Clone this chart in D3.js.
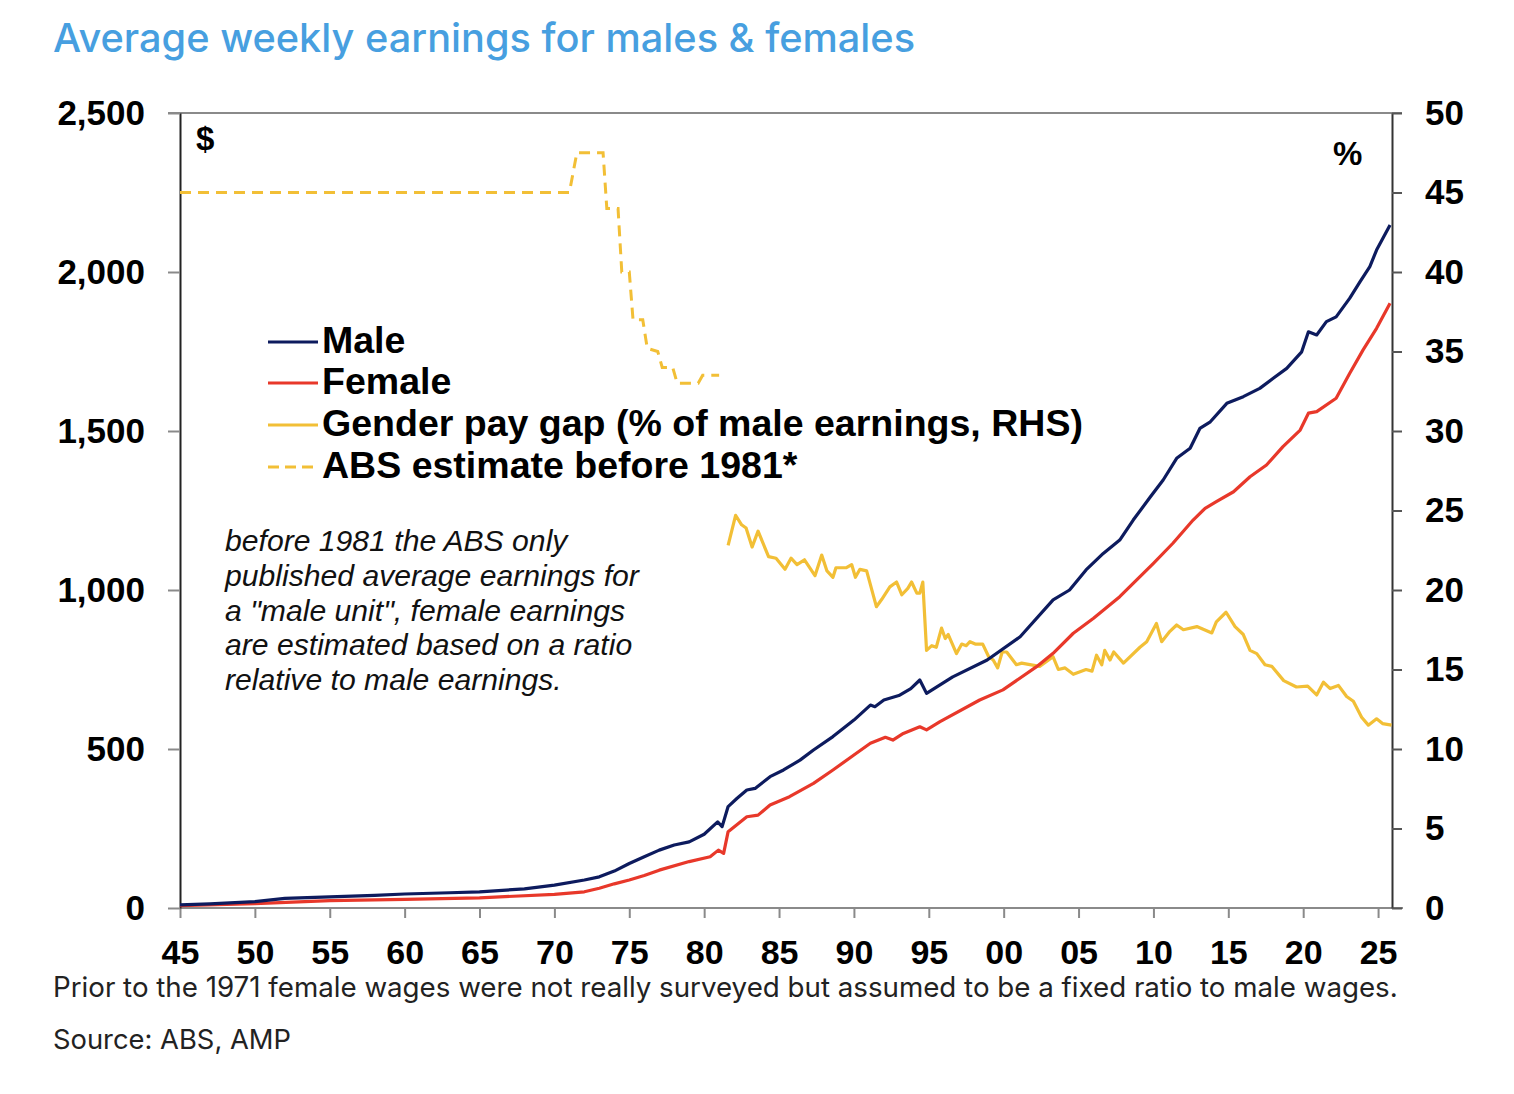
<!DOCTYPE html>
<html><head><meta charset="utf-8">
<script src="https://cdn.jsdelivr.net/npm/d3@7"></script>
<style>
html,body{margin:0;padding:0;background:#fff;}
svg{display:block;}
</style></head>
<body>
<svg id="chart" width="1514" height="1094"></svg>
<script>
// ---------- DATA ----------
const maleYears = [1945,1947,1950,1952,1955,1958,1960,1963,1965,1968,1970,1972,1973,1974,1975,1976,1977,1978,1979,1980,1980.9,1981.2,1981.6,1982.2,1982.85,1983.4,1984.4,1985.3,1986.4,1987.3,1988.6,1990.0,1991.1,1991.4,1992.0,1993.0,1993.8,1994.4,1994.85,1996.6,1998.9,2001.1,2003.3,2004.4,2005.5,2006.65,2007.75,2008.65,2009.8,2010.65,2011.55,2012.45,2013.1,2013.8,2014.9,2016.0,2017.1,2018.0,2018.9,2019.9,2020.35,2020.9,2021.55,2022.2,2023.1,2023.8,2024.45,2024.9,2025.8];
const maleValues = [10,13,20,30,35,40,44,48,51,60,72,88,98,116,140,161,182,198,208,232,271,256,319,345,371,376,413,434,465,497,539,591,638,633,654,668,690,717,675,727,780,853,969,1000,1063,1115,1157,1220,1293,1346,1414,1446,1508,1529,1587,1608,1634,1666,1697,1749,1812,1802,1844,1859,1917,1970,2017,2069,2148];

const femaleYears = [1945,1950,1955,1960,1965,1970,1972,1973,1974,1975,1976,1977,1979,1980.4,1980.95,1981.3,1981.6,1982.85,1983.6,1984.4,1985.7,1987.3,1988.6,1990.0,1991.1,1992.1,1992.6,1993.3,1994.4,1994.85,1995.75,1998.4,1999.95,2002.2,2003.3,2004.65,2006.0,2007.75,2010.0,2011.3,2012.65,2013.45,2014.2,2015.35,2016.45,2017.55,2018.65,2019.8,2020.35,2020.9,2022.2,2023.1,2024.0,2024.9,2025.8];
const femaleValues = [7,14,23,27,32,43,51,62,76,88,102,119,146,161,182,172,240,287,292,324,350,392,434,481,518,537,528,549,570,560,586,654,686,759,801,864,911,979,1084,1147,1220,1257,1278,1309,1356,1393,1451,1503,1556,1561,1603,1681,1755,1823,1902];

const gapYears = [1981.6,1982.1,1982.5,1982.8,1983.2,1983.6,1984.3,1984.8,1985.4,1985.8,1986.2,1986.7,1987.4,1987.85,1988.2,1988.6,1988.8,1989.5,1989.85,1990.1,1990.4,1990.85,1991.5,1991.85,1992.4,1992.85,1993.2,1993.6,1993.85,1994.2,1994.4,1994.6,1994.85,1995.2,1995.5,1995.85,1996.1,1996.3,1996.85,1997.2,1997.5,1997.75,1998.1,1998.6,1999.0,1999.3,1999.6,1999.9,2000.2,2000.85,2001.2,2002.4,2003.3,2003.65,2004.1,2004.65,2005.5,2005.9,2006.2,2006.55,2006.75,2007.1,2007.35,2008.0,2009.1,2009.55,2010.2,2010.55,2011.1,2011.55,2012.0,2012.9,2013.9,2014.2,2014.85,2015.45,2016.0,2016.45,2016.9,2017.45,2017.9,2018.7,2019.55,2020.3,2020.9,2021.35,2021.8,2022.35,2022.9,2023.35,2023.9,2024.35,2024.9,2025.3,2025.9];
const gapValues = [22.8,24.7,24.1,23.9,22.7,23.7,22.1,22.0,21.3,22.0,21.6,21.9,20.9,22.2,21.2,20.8,21.4,21.4,21.6,20.8,21.3,21.2,18.95,19.4,20.2,20.5,19.7,20.1,20.5,19.8,19.8,20.5,16.2,16.5,16.4,17.6,16.95,17.2,16.0,16.6,16.5,16.75,16.6,16.6,15.8,15.6,15.1,16.1,16.1,15.3,15.4,15.2,15.8,15.0,15.1,14.7,15.0,14.9,15.9,15.3,16.2,15.6,16.1,15.4,16.4,16.75,17.9,16.75,17.4,17.8,17.5,17.7,17.3,18.0,18.6,17.7,17.2,16.2,16.0,15.3,15.2,14.3,13.9,13.96,13.4,14.2,13.8,14.0,13.3,13.0,12.0,11.5,11.9,11.6,11.5];

const absYears = [1945,1971.0,1971.5,1973.25,1973.5,1974.25,1974.5,1975.0,1975.25,1975.9,1976.2,1976.9,1977.2,1977.9,1978.2,1979.6,1979.9,1981.0];
const absValues = [45,45,47.5,47.5,44,44,40,40,37,37,35.2,35,34,34,33,33,33.5,33.5];

const xTickYears = [1945,1950,1955,1960,1965,1970,1975,1980,1985,1990,1995,2000,2005,2010,2015,2020,2025];
const leftTicks = [0,500,1000,1500,2000,2500];
const rightTicks = [0,5,10,15,20,25,30,35,40,45,50];

const legendLabels = ["Male","Female","Gender pay gap (% of male earnings, RHS)","ABS estimate before 1981*"];
const noteLines = ["before 1981 the ABS only","published average earnings for","a \"male unit\", female earnings","are estimated based on a ratio","relative to male earnings."];
const titleText = "Average weekly earnings for males & females";
const footText = "Prior to the 1971 female wages were not really surveyed but assumed to be a fixed ratio to male wages.";
const sourceText = "Source: ABS, AMP";

// ---------- STYLE ----------
const C = {male:"#0d1b5e", female:"#e8382a", gap:"#f2bf36", title:"#479fe0"};
const chartFont = "'Liberation Sans', Arial, sans-serif";
const uiFont = "Inter, 'Noto Sans', sans-serif";

const svg = d3.select("#chart");
svg.append("rect").attr("width",1514).attr("height",1094).attr("fill","#fff");

const L = 180, R = 1392, T = 113, B = 908;
const x = d3.scaleLinear().domain([1945, 2025.93]).range([L, R]);
const y = d3.scaleLinear().domain([0, 2500]).range([B, T]);
const yR = d3.scaleLinear().domain([0, 50]).range([B, T]);

function fitSize(sel, w){
  const fs = parseFloat(sel.attr("font-size"));
  return fs*w/sel.node().getComputedTextLength();
}
function fit(sel, w){ sel.attr("font-size", fitSize(sel,w).toFixed(2)); }

// title / footer
fit(svg.append("text").attr("x",53).attr("y",52).attr("font-family",uiFont).attr("font-weight",500)
  .attr("font-size",38).attr("fill",C.title).text(titleText), 862);
fit(svg.append("text").attr("x",53).attr("y",997).attr("font-family",uiFont).attr("font-weight",400)
  .attr("font-size",25).attr("fill","#222").text(footText), 1345);
fit(svg.append("text").attr("x",53).attr("y",1049).attr("font-family",uiFont).attr("font-weight",400)
  .attr("font-size",25).attr("fill","#222").text(sourceText), 238);

// frame line (top)
svg.append("line").attr("x1",168).attr("x2",1402).attr("y1",T).attr("y2",T).attr("stroke","#8a8a8a").attr("stroke-width",2);

// axes
const xAxis = d3.axisBottom(x).tickValues(xTickYears).tickSize(10).tickSizeOuter(0).tickPadding(22)
  .tickFormat(d => String(d % 100).padStart(2,"0"));
const gx = svg.append("g").attr("transform",`translate(0,${B})`).call(xAxis);
gx.select(".domain").attr("stroke","#8a8a8a").attr("stroke-width",2).attr("d",`M${L},0H1403`);
gx.selectAll(".tick line").attr("stroke","#8a8a8a").attr("stroke-width",2);
gx.selectAll(".tick text").attr("font-family",chartFont).attr("font-weight","bold").attr("font-size",34).attr("fill","#000").attr("dy","0.7em");

const yAxisL = d3.axisLeft(y).tickValues(leftTicks).tickSize(12).tickSizeOuter(0).tickPadding(23).tickFormat(d3.format(","));
const gy = svg.append("g").attr("transform",`translate(${L},0)`).call(yAxisL);
gy.select(".domain").attr("stroke","#222").attr("stroke-width",2);
gy.selectAll(".tick line").attr("stroke","#8a8a8a").attr("stroke-width",2);
gy.selectAll(".tick text").attr("font-family",chartFont).attr("font-weight","bold").attr("font-size",35).attr("fill","#000");

const yAxisR = d3.axisRight(yR).tickValues(rightTicks).tickSize(10).tickSizeOuter(0).tickPadding(23);
const gr = svg.append("g").attr("transform",`translate(${R},0)`).call(yAxisR);
gr.select(".domain").attr("stroke","#333").attr("stroke-width",2);
gr.selectAll(".tick line").attr("stroke","#555").attr("stroke-width",2);
gr.selectAll(".tick text").attr("font-family",chartFont).attr("font-weight","bold").attr("font-size",35).attr("fill","#000");

// unit labels
svg.append("text").attr("x",196).attr("y",150).attr("font-family",chartFont).attr("font-weight","bold").attr("font-size",33).text("$");
svg.append("text").attr("x",1333).attr("y",165).attr("font-family",chartFont).attr("font-weight","bold").attr("font-size",33).text("%");

// clip
svg.append("clipPath").attr("id","plot").append("rect").attr("x",L).attr("y",T-2).attr("width",R-L+1).attr("height",B-T+2);
const plot = svg.append("g").attr("clip-path","url(#plot)");

const zip = (xs, vs) => xs.map((d,i)=>[d, vs[i]]);
const lineL = d3.line().x(d=>x(d[0])).y(d=>y(d[1]));
const lineR = d3.line().x(d=>x(d[0])).y(d=>yR(d[1]));

plot.append("path").attr("d",lineR(zip(absYears,absValues))).attr("fill","none").attr("stroke",C.gap)
  .attr("stroke-width",3).attr("stroke-dasharray","11,7");
plot.append("path").attr("d",lineR(zip(gapYears,gapValues))).attr("fill","none").attr("stroke",C.gap)
  .attr("stroke-width",3.2).attr("stroke-linejoin","round");
plot.append("path").attr("d",lineL(zip(femaleYears,femaleValues))).attr("fill","none").attr("stroke",C.female)
  .attr("stroke-width",3.2).attr("stroke-linejoin","round");
plot.append("path").attr("d",lineL(zip(maleYears,maleValues))).attr("fill","none").attr("stroke",C.male)
  .attr("stroke-width",3.2).attr("stroke-linejoin","round");

// legend
const legColors = [C.male, C.female, C.gap, C.gap];
const legY = [342, 383, 425, 467];
const legTexts = legendLabels.map((t,i)=>{
  svg.append("line").attr("x1",268).attr("x2",318).attr("y1",legY[i]).attr("y2",legY[i])
    .attr("stroke",legColors[i]).attr("stroke-width",3).attr("stroke-dasharray", i===3 ? "11,6" : null);
  return svg.append("text").attr("x",322).attr("y",legY[i]+11).attr("font-family",chartFont)
    .attr("font-weight","bold").attr("font-size",33).attr("fill","#000").text(t);
});
const legFs = fitSize(legTexts[2], 761);
legTexts.forEach(t => t.attr("font-size", legFs.toFixed(2)));

// note
const noteTexts = noteLines.map((t,i)=> svg.append("text").attr("x",225).attr("y",551 + i*34.8)
  .attr("font-family",chartFont).attr("font-style","italic").attr("font-size",25).attr("fill","#111").text(t));
const noteFs = fitSize(noteTexts[1], 414);
noteTexts.forEach(t => t.attr("font-size", noteFs.toFixed(2)));
</script>
</body></html>
